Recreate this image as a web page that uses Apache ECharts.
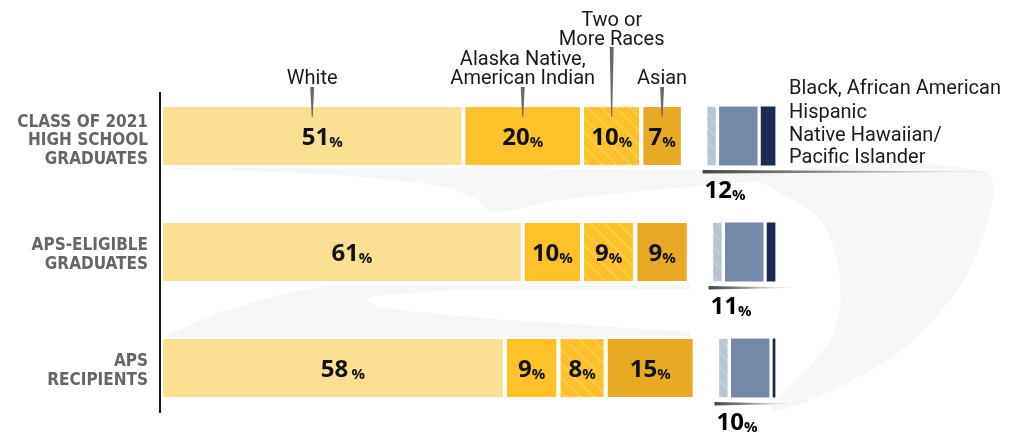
<!DOCTYPE html>
<html><head><meta charset="utf-8">
<script src="https://cdn.jsdelivr.net/npm/echarts@6/dist/echarts.min.js"></script>
<style>html,body{margin:0;padding:0;background:#fff}#c{width:1010px;height:435px}</style>
</head><body><div id="c"></div>
<script>
// ---- data ----
const categories = ['CLASS OF 2021\nHIGH SCHOOL\nGRADUATES', 'APS-ELIGIBLE\nGRADUATES', 'APS\nRECIPIENTS'];
const mainNames = ['White', 'Alaska Native,\nAmerican Indian', 'Two or\nMore Races', 'Asian'];
const white = [51, 61, 58];
const alaskaNative = [20, 10, 9];
const twoOrMore = [10, 9, 8];
const asian = [7, 9, 15];
const smallNames = ['Black, African American', 'Hispanic', 'Native Hawaiian/\nPacific Islander'];
const black = [3, 2, 1];
const hispanic = [7, 7, 7];
const nhpi = [2, 2, 2];
const smallTotals = [12, 11, 10];

// ---- styles ----
const NUM_FONT = '"Open Sans", "Noto Sans", sans-serif';
const TXT_FONT = 'Roboto, "Noto Sans", sans-serif';
const CAT_FONT = '"DejaVu Sans Condensed", "Liberation Sans Narrow", "DejaVu Sans", sans-serif';
const mainColors = ['#FBE093', '#FDC22A', '#FDC22A', '#E8A925'];
const smallColors = ['#1D2A55', '#7489A8', '#B7C4D4'];
const hatch = {symbol: 'rect', symbolSize: 1, dashArrayX: [1, 0], dashArrayY: [1, 9], rotation: Math.PI / 4, color: 'rgba(255,255,255,0.3)'};
const numRich = {
  n: {fontFamily: NUM_FONT, fontWeight: 'bold', fontSize: 24, color: '#111', lineHeight: 28, verticalAlign: 'bottom'},
  p: {fontFamily: NUM_FONT, fontWeight: 'bold', fontSize: 15, color: '#111', lineHeight: 24, verticalAlign: 'bottom'}
};

const chart = echarts.init(document.getElementById('c'));
const mainData = [white, alaskaNative, twoOrMore, asian];
const smallData = [black, hispanic, nhpi];

const series = [];
mainData.forEach((arr, i) => {
  series.push({
    name: mainNames[i], type: 'bar', stack: 'main', xAxisIndex: 0, yAxisIndex: 0,
    barWidth: 62, data: arr, z: 3,
    itemStyle: {color: mainColors[i], borderColor: '#fff', borderWidth: 2, decal: i === 2 ? hatch : null},
    label: {
      show: true, position: 'inside', offset: i === 0 ? [10, 0] : [0, 0], rich: numRich,
      formatter: p => (i === 0 && p.dataIndex === 2) ? `{n|${p.value}} {p|%}` : `{n|${p.value}}{p|%}`
    }
  });
});
smallData.forEach((arr, i) => {
  series.push({
    name: smallNames[i], type: 'bar', stack: 'small', xAxisIndex: 1, yAxisIndex: 1,
    barWidth: 62, data: arr, z: 3,
    itemStyle: {color: smallColors[i], borderColor: '#fff', borderWidth: 1.6, decal: i === 2 ? hatch : null}
  });
});

chart.setOption({
  animation: false,
  grid: [{left: 161, top: 78, width: 593, height: 348}, {left: 658, top: 78, width: 119, height: 348}],
  xAxis: [
    {type: 'value', gridIndex: 0, min: 0, max: 100, show: false},
    {type: 'value', gridIndex: 1, min: 0, max: 20, inverse: true, show: false}
  ],
  yAxis: [
    {type: 'category', gridIndex: 0, data: categories, inverse: true,
     axisLine: {show: false}, axisTick: {show: false}, splitLine: {show: false}, axisLabel: {show: false}},
    {type: 'category', gridIndex: 1, data: categories, inverse: true, show: false}
  ],
  series: series
});

// ---- decorations positioned from the axes ----
const g = [];
const BG = '#F6F7F7';
// faint background swooshes
g.push({type: 'polygon', z: 0, shape: {smooth: 0.35, points: [[163,168],[985,172],[850,176],[700,186],[560,200],[492,212],[478,200],[440,186],[320,174]]}, style: {fill: BG}});
g.push({type: 'polygon', z: 0, shape: {smooth: 0.35, points: [[985,172],[985,230],[950,300],[880,365],[772,410],[830,340],[840,280],[820,220],[760,176]]}, style: {fill: BG}});
g.push({type: 'polygon', z: 0, shape: {points: [[163,337],[220,312],[290,292],[340,284],[690,284],[690,289],[450,290],[372,296],[366,300],[380,308],[480,318],[690,332],[690,338]]}, style: {fill: BG}});
// axis line
g.push({type: 'line', z: 10, shape: {x1: 160, y1: 92, x2: 160, y2: 413}, style: {stroke: '#1a1a1a', lineWidth: 2}});

// category labels, placed at the category positions of the y axis
const catNudge = [5, 3, 3];
categories.forEach((c, r) => {
  const p = chart.convertToPixel({xAxisIndex: 0, yAxisIndex: 0}, [0, r]);
  g.push({type: 'text', z: 10, x: p[0] - 13, y: p[1] + catNudge[r],
    style: {text: c, fill: '#666', fontFamily: CAT_FONT, fontWeight: 'bold', fontSize: 17, lineHeight: 18.5, align: 'right', verticalAlign: 'middle'}});
});

// top annotations for row 0
const textBottoms = [88, 88, 49, 88];
const pinTops = [87, 87, 47, 87];
let cum = 0;
mainData.forEach((arr, i) => {
  const v = arr[0];
  const pt = chart.convertToPixel({xAxisIndex: 0, yAxisIndex: 0}, [cum + v / 2, 0]);
  cum += v;
  const barTop = pt[1] - 31;
  const x = pt[0];
  g.push({type: 'text', z: 10, x: x, y: textBottoms[i],
    style: {text: mainNames[i], fill: '#1a1a1a', fontFamily: TXT_FONT, fontSize: 20, lineHeight: 19, align: 'center', verticalAlign: 'bottom'}});
  const top = pinTops[i];
  g.push({type: 'polygon', z: 10, shape: {points: [[x - 2, top], [x + 2, top], [x + 0.5, barTop + 12], [x - 0.5, barTop + 12]]},
    style: {fill: '#6a6a6a'}});
});

// right legend
const legendY = [89, 113, 147];
smallNames.forEach((n, i) => {
  g.push({type: 'text', z: 10, x: 789, y: legendY[i],
    style: {text: n, fill: '#1a1a1a', fontFamily: TXT_FONT, fontSize: 20, lineHeight: 22, align: 'left', verticalAlign: 'middle'}});
});

// totals under small bars
smallTotals.forEach((t, r) => {
  const p = chart.convertToPixel({xAxisIndex: 1, yAxisIndex: 1}, [t, r]);
  const left = p[0];
  const bottom = p[1] + 31;
  const endX = r === 0 ? 985 : 790;
  g.push({type: 'polygon', z: 10, shape: {points: [[left - 3, bottom + 3], [endX, bottom + 4.5], [endX, bottom + 5], [left - 3, bottom + 6.5]]},
    style: {fill: {type: 'linear', x: 0, y: 0, x2: 1, y2: 0, colorStops: [{offset: 0, color: '#444'}, {offset: 0.5, color: '#9a9a9a'}, {offset: 1, color: 'rgba(200,200,200,0.3)'}]}}});
  g.push({type: 'text', z: 10, x: left - 1, y: bottom + 22,
    style: {text: `{n|${t}}{p|%}`, rich: numRich, align: 'left', verticalAlign: 'middle'}});
});

chart.setOption({graphic: {elements: g}});
</script>
</body></html>
